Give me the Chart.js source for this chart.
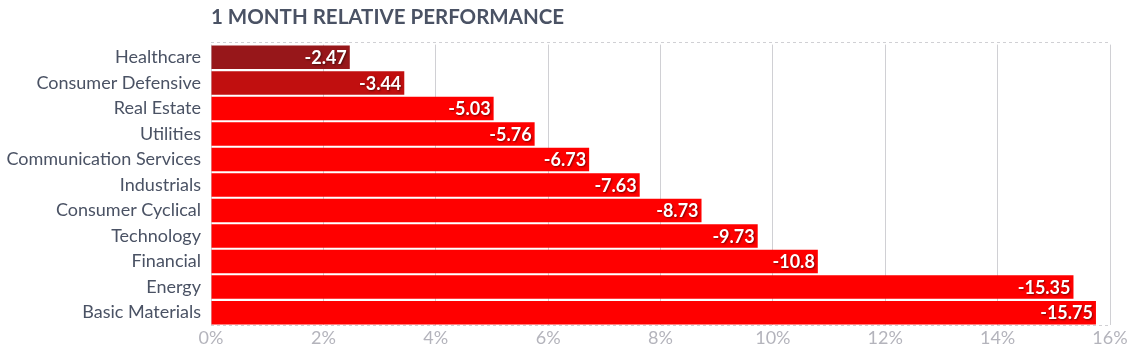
<!DOCTYPE html>
<html>
<head>
<meta charset="utf-8">
<script src="https://cdn.jsdelivr.net/npm/chart.js@4.4.1/dist/chart.umd.min.js"></script>
<style>
html,body{margin:0;padding:0;background:#fff;}
#wrap{width:1141px;height:354px;position:relative;}
</style>
</head>
<body>
<div id="wrap"><canvas id="c"></canvas></div>
<script>
const categories = ["Healthcare","Consumer Defensive","Real Estate","Utilities","Communication Services","Industrials","Consumer Cyclical","Technology","Financial","Energy","Basic Materials"];
const performance = [-2.47,-3.44,-5.03,-5.76,-6.73,-7.63,-8.73,-9.73,-10.8,-15.35,-15.75];
const barColors = ["#97171a","#c10f0f","#ff0000","#ff0000","#ff0000","#ff0000","#ff0000","#ff0000","#ff0000","#ff0000","#ff0000"];
const xTickValues = [0,2,4,6,8,10,12,14,16];
const titleText = "1 MONTH RELATIVE PERFORMANCE";

Chart.defaults.font.family = "Lato, 'Noto Sans', sans-serif";

const valueLabels = {
  id: 'valueLabels',
  afterDatasetsDraw(chart) {
    const ctx = chart.ctx;
    const meta = chart.getDatasetMeta(0);
    ctx.save();
    ctx.font = "bold 18px Lato, sans-serif";
    ctx.fillStyle = "#ffffff";
    ctx.textAlign = "right";
    ctx.textBaseline = "middle";
    ctx.shadowColor = "rgba(0,0,0,0.5)";
    ctx.shadowBlur = 2;
    ctx.shadowOffsetX = 1;
    ctx.shadowOffsetY = 1;
    meta.data.forEach((el, i) => {
      ctx.fillText(String(performance[i]), el.x - 3, el.y + 1);
    });
    ctx.restore();
  }
};

const frameLines = {
  id: 'frameLines',
  beforeDatasetsDraw(chart) {
    const {ctx, chartArea} = chart;
    ctx.save();
    ctx.strokeStyle = "#d0d0d4";
    ctx.lineWidth = 1;
    ctx.setLineDash([3,3]);
    ctx.beginPath();
    const t = Math.round(chartArea.top) - 2.5;
    const b = Math.round(chartArea.bottom) + 0.5;
    ctx.moveTo(chartArea.left, t);
    ctx.lineTo(chartArea.right, t);
    ctx.moveTo(chartArea.left, b);
    ctx.lineTo(chartArea.right, b);
    ctx.stroke();
    ctx.restore();
  }
};

new Chart(document.getElementById('c'), {
  type: 'bar',
  data: {
    labels: categories,
    datasets: [{
      data: performance.map(v => Math.abs(v)),
      backgroundColor: barColors,
      borderWidth: 0,
      barPercentage: 0.92,
      categoryPercentage: 1.0
    }]
  },
  options: {
    indexAxis: 'y',
    responsive: true,
    maintainAspectRatio: false,
    animation: false,
    layout: { padding: { left: 0, right: 31, top: 0, bottom: 3 } },
    plugins: {
      legend: { display: false },
      tooltip: { enabled: false },
      title: {
        display: true,
        text: titleText,
        align: 'start',
        fullSize: false,
        color: "#4a5264",
        font: { size: 20.5, weight: 'bold' },
        padding: { top: 5, bottom: 15 }
      }
    },
    scales: {
      x: {
        min: 0,
        max: 16,
        afterBuildTicks(scale) { scale.ticks = xTickValues.map(v => ({ value: v })); },
        ticks: {
          color: "#b4b4bc",
          font: { size: 18 },
          padding: 2,
          callback: v => v + "%"
        },
        grid: {
          color: "#d0d0d4",
          drawTicks: false,
          tickLength: 0
        },
        border: { display: false }
      },
      y: {
        afterFit(scale) { scale.width = 211; },
        ticks: {
          color: "#4a5264",
          font: { size: 18 },
          padding: 10
        },
        grid: { display: false, drawTicks: false, tickLength: 0 },
        border: { display: false }
      }
    }
  },
  plugins: [frameLines, valueLabels]
});

</script>
</body>
</html>
